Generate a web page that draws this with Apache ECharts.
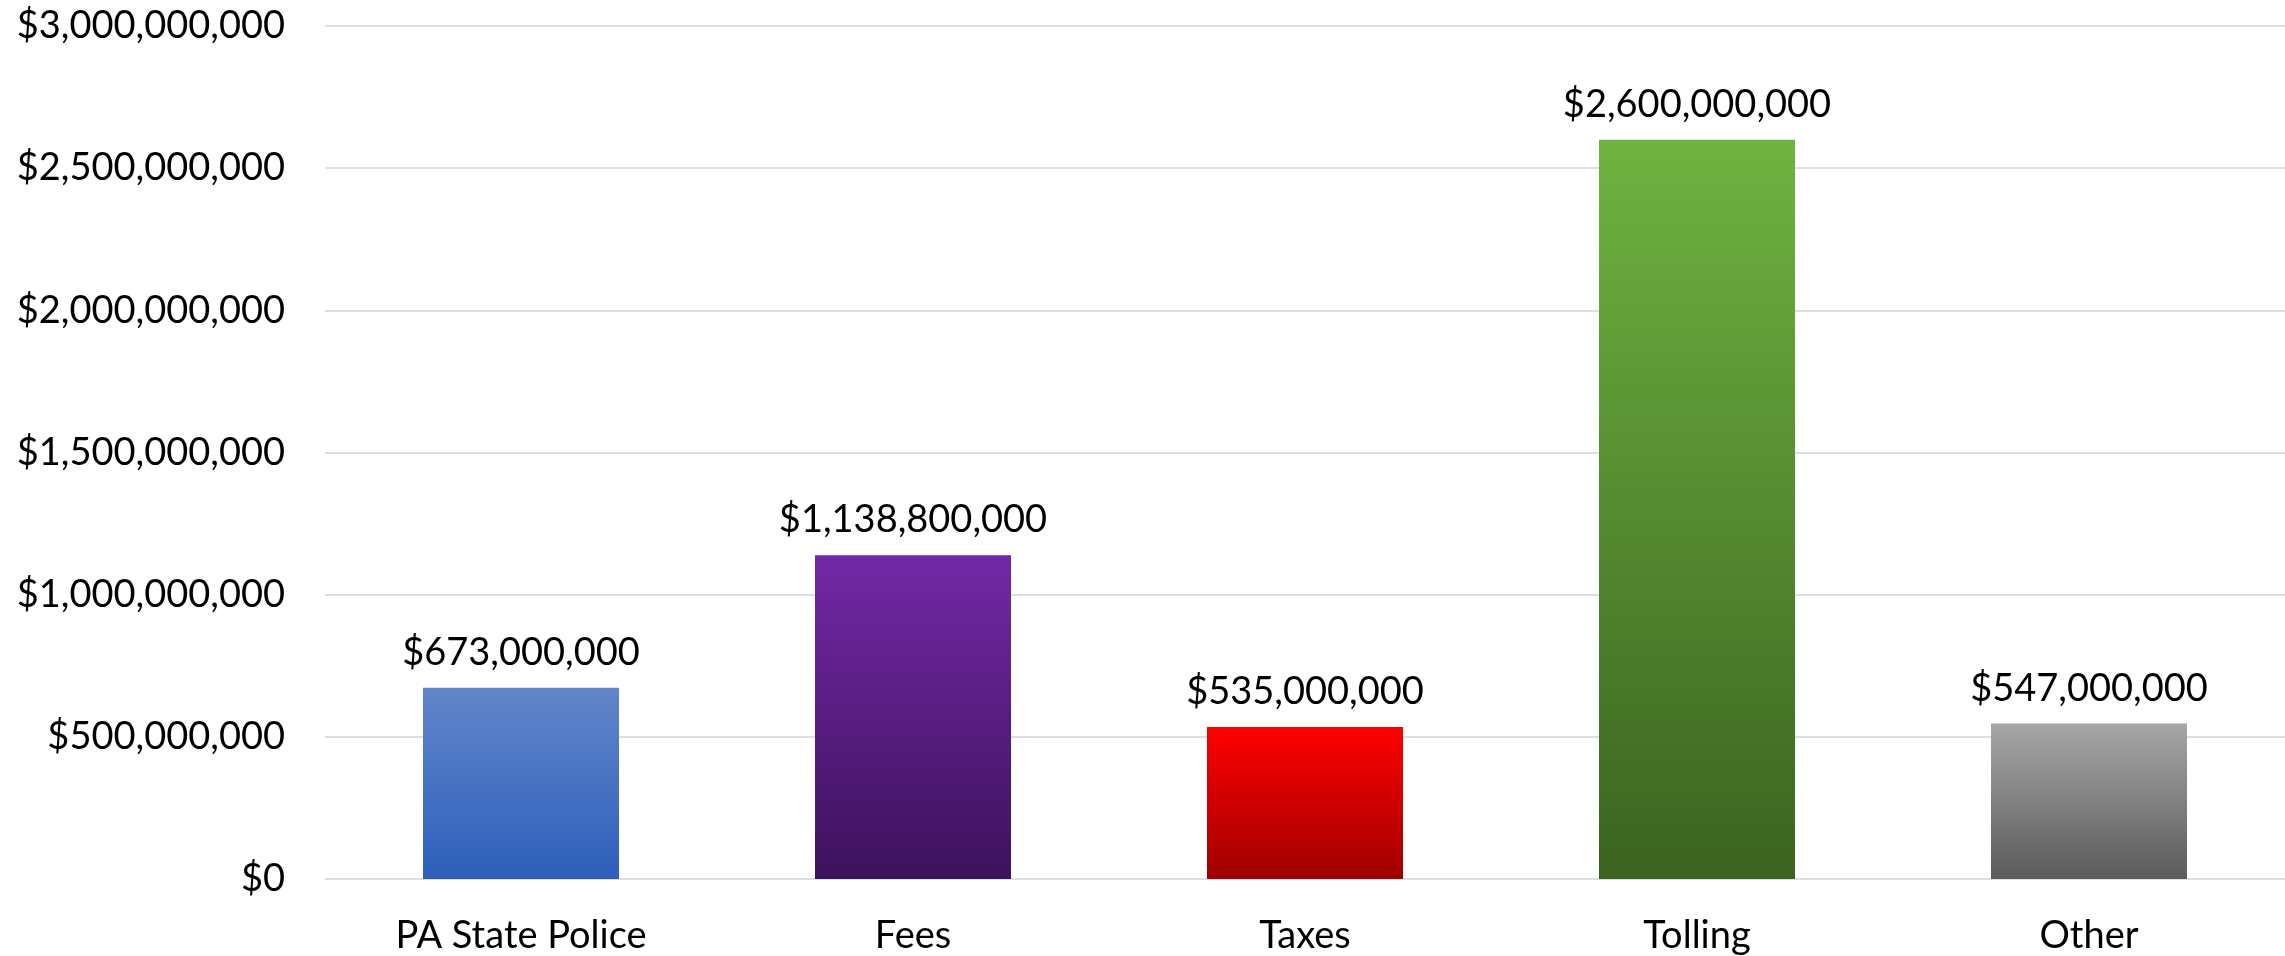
<!DOCTYPE html>
<html>
<head>
<meta charset="utf-8">
<script src="https://cdn.jsdelivr.net/npm/echarts@6/dist/echarts.min.js"></script>
<style>
html,body{margin:0;padding:0;background:#fff;}
#chart{width:2285px;height:956px;}
</style>
</head>
<body>
<div id="chart"></div>
<script>
const categories = ["PA State Police", "Fees", "Taxes", "Tolling", "Other"];
const values = [673000000, 1138800000, 535000000, 2600000000, 547000000];
const gradientTops = ["#6286ca", "#7228a6", "#ff0000", "#70b341", "#a6a6a6"];
const gradientBottoms = ["#2d5fbb", "#3d125c", "#a00000", "#3b6320", "#5b5b5b"];
const yMin = 0, yMax = 3000000000, yInterval = 500000000;

function money(v){ return "$" + Math.round(v).toString().replace(/\B(?=(\d{3})+(?!\d))/g, ","); }

const chart = echarts.init(document.getElementById("chart"));
const font = "Lato";
chart.setOption({
  animation:false,
  grid:{left:325,right:0,top:26,bottom:77,containLabel:false},
  xAxis:{
    type:"category", data:categories,
    axisLine:{show:false}, axisTick:{show:false},
    axisLabel:{fontFamily:font,fontSize:38,color:"#000",margin:38}
  },
  yAxis:{
    type:"value", min:yMin, max:yMax, interval:yInterval,
    axisLine:{show:false}, axisTick:{show:false},
    splitLine:{lineStyle:{color:"#dcdfe5",width:2}},
    axisLabel:{fontFamily:font,fontSize:38,color:"#000",margin:40,formatter:money}
  },
  series:[{
    type:"bar", barWidth:"50%",
    data: values.map((v,i)=>({value:v,itemStyle:{color:new echarts.graphic.LinearGradient(0,0,0,1,[{offset:0,color:gradientTops[i]},{offset:1,color:gradientBottoms[i]}])}})),
    label:{show:true,position:"top",distance:16,fontFamily:font,fontSize:38,color:"#000",formatter:p=>money(p.value)}
  }]
});
</script>
</body>
</html>
